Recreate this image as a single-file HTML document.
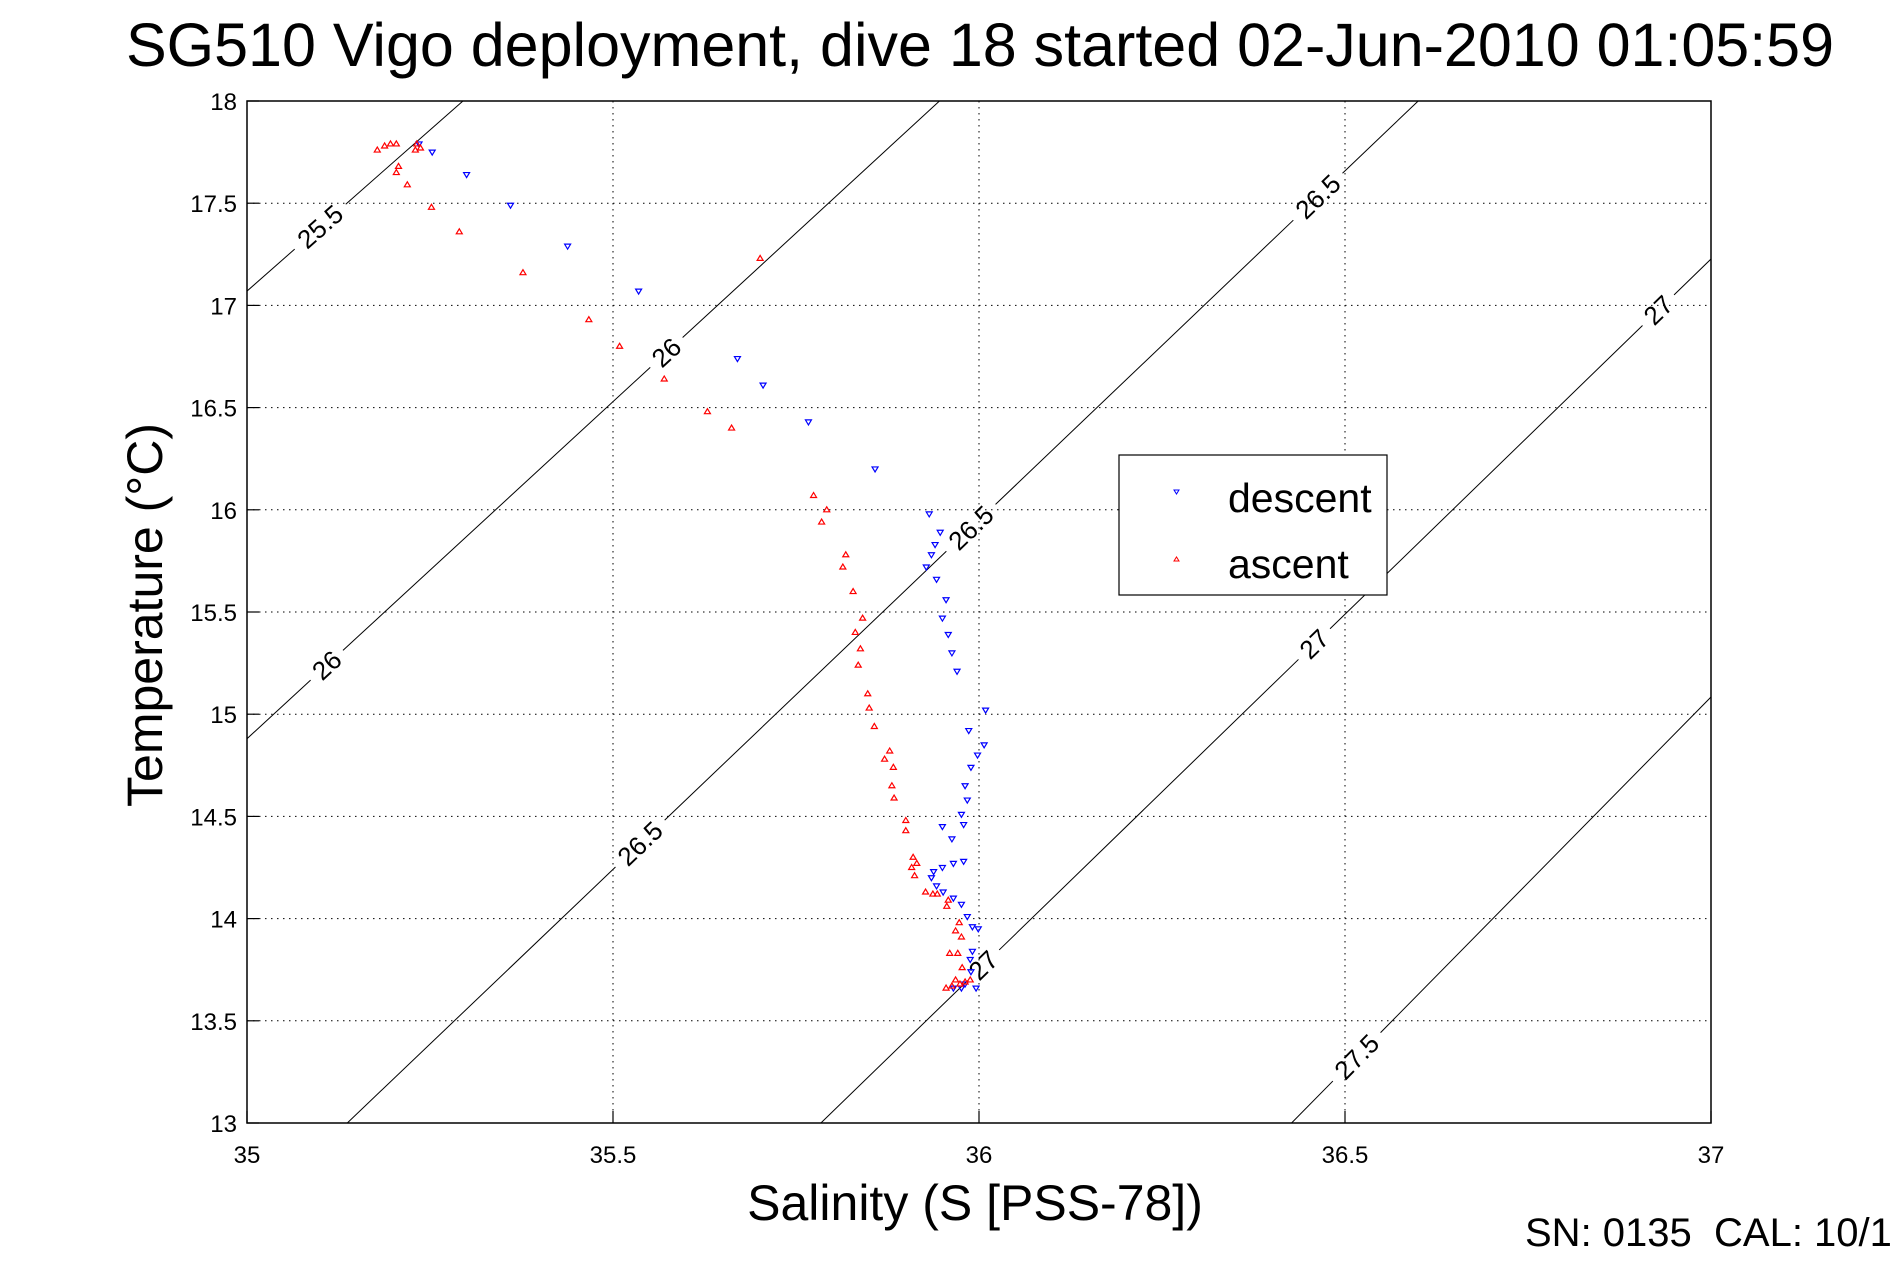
<!DOCTYPE html>
<html><head><meta charset="utf-8"><style>
html,body{margin:0;padding:0;background:#fff;}
svg{display:block;font-family:"Liberation Sans",sans-serif;}
</style></head><body>
<svg id="chart" width="1891" height="1262" viewBox="0 0 1891 1262">
<text x="980" y="66" font-size="61" text-anchor="middle">SG510 Vigo deployment, dive 18 started 02-Jun-2010 01:05:59</text>
<text x="975" y="1220" font-size="50" text-anchor="middle">Salinity (S [PSS-78])</text>
<text transform="translate(162,615) rotate(-90)" font-size="50" text-anchor="middle">Temperature (°C)</text>
<text x="1525" y="1246" font-size="40" style="white-space:pre">SN: 0135  CAL: 10/1</text>
<defs><clipPath id="pc"><rect x="247" y="101" width="1464" height="1022"/></clipPath></defs>
<g id="grid"></g>
<g id="contours" clip-path="url(#pc)"></g>
<g id="marks"></g>
<rect x="247" y="101" width="1464" height="1022" fill="none" stroke="#000" stroke-width="1.5"/>
<g id="ticks"></g>
<g>
<rect x="1119" y="455" width="268" height="140" fill="#fff" stroke="#000" stroke-width="1.2"/>
<path d="M1174,490 l5,0 l-2.5,4z" fill="none" stroke="#00f"/>
<text x="1228" y="512" font-size="41">descent</text>
<path d="M1174,561 l5,0 l-2.5,-4z" fill="none" stroke="#f00"/>
<text x="1228" y="578" font-size="41">ascent</text>
</g>
</svg>
<script>
const xTicks=[35,35.5,36,36.5,37];
const yTicks=[13,13.5,14,14.5,15,15.5,16,16.5,17,17.5,18];
const xTickLabels=["35","35.5","36","36.5","37"];
const yTickLabels=["13","13.5","14","14.5","15","15.5","16","16.5","17","17.5","18"];
const descentS=[35.235,35.253,35.300,35.360,35.438,35.535,35.670,35.705,35.767,35.858,35.932,35.947,35.940,35.935,35.928,35.942,35.955,35.950,35.958,35.963,35.970,36.009,36.007,35.986,35.998,35.989,35.981,35.984,35.976,35.979,35.950,35.963,35.979,35.965,35.950,35.938,35.935,35.942,35.951,35.965,35.976,35.984,35.991,35.999,35.991,35.988,35.989,35.981,35.996,35.976,35.965];
const descentT=[17.79,17.75,17.64,17.49,17.29,17.07,16.74,16.61,16.43,16.20,15.98,15.89,15.83,15.78,15.72,15.66,15.56,15.47,15.39,15.30,15.21,15.02,14.85,14.92,14.80,14.74,14.65,14.58,14.51,14.46,14.45,14.39,14.28,14.27,14.25,14.23,14.20,14.16,14.13,14.10,14.07,14.01,13.96,13.95,13.84,13.80,13.74,13.68,13.66,13.66,13.66];
const ascentS=[35.178,35.188,35.196,35.204,35.232,35.237,35.230,35.207,35.204,35.219,35.252,35.290,35.377,35.467,35.509,35.701,35.570,35.629,35.662,35.774,35.792,35.785,35.818,35.814,35.828,35.841,35.831,35.838,35.835,35.848,35.850,35.857,35.871,35.878,35.883,35.881,35.884,35.900,35.900,35.910,35.915,35.908,35.912,35.927,35.937,35.943,35.958,35.956,35.973,35.968,35.976,35.960,35.971,35.977,35.968,35.974,35.981,35.963,35.955,35.988];
const ascentT=[17.76,17.78,17.79,17.79,17.79,17.77,17.76,17.68,17.65,17.59,17.48,17.36,17.16,16.93,16.80,17.23,16.64,16.48,16.40,16.07,16.00,15.94,15.78,15.72,15.60,15.47,15.40,15.32,15.24,15.10,15.03,14.94,14.78,14.82,14.74,14.65,14.59,14.48,14.43,14.30,14.27,14.25,14.21,14.13,14.12,14.12,14.09,14.06,13.98,13.94,13.91,13.83,13.83,13.76,13.70,13.68,13.69,13.67,13.66,13.70];
const contourLevels=["25.5","26","26.5","27","27.5"];
const contourS0=[35.0,35.0,35.137,35.784,36.427];
const contourT0=[17.07,14.88,13.0,13.0,13.0];
const contourS1=[35.295,35.946,36.6,37.0,37.0];
const contourT1=[18.0,18.0,18.0,17.227,15.084];
const contourLabelS=[[35.100],[35.109,35.573],[35.537,35.989,36.463],[36.006,36.458,36.928],[36.516]];

const X0=247,X1=1711,Y0=1123,Y1=101;
const sx=s=>X0+(s-35)/2*(X1-X0);
const sy=t=>Y0-(t-13)/5*(Y0-Y1);
const NS="http://www.w3.org/2000/svg";
function mk(tag,attrs,parent){const e=document.createElementNS(NS,tag);for(const k in attrs)e.setAttribute(k,attrs[k]);parent.appendChild(e);return e;}
const grid=document.getElementById('grid'),ticks=document.getElementById('ticks'),cont=document.getElementById('contours'),marks=document.getElementById('marks');

xTicks.forEach((v,i)=>{const x=sx(v);
 const g=mk('line',{x1:x,x2:x,y1:Y1,y2:Y0,stroke:'#000','stroke-width':1,'stroke-dasharray':'1.5,4.5'},grid);
 
 
 const t=mk('line',{x1:x,x2:x,y1:Y0,y2:Y0-12,stroke:'#000','stroke-width':1.2},ticks);
 
 
 const l=mk('text',{x:x,y:1163,'font-size':24,'text-anchor':'middle'},ticks);l.textContent=xTickLabels[i];
 
 
});
yTicks.forEach((v,i)=>{const y=sy(v);
 const g=mk('line',{x1:X0,x2:X1,y1:y,y2:y,stroke:'#000','stroke-width':1,'stroke-dasharray':'1.5,4.5'},grid);
 
 
 const t=mk('line',{x1:X0,x2:X0+12,y1:y,y2:y,stroke:'#000','stroke-width':1.2},ticks);
 
 
 const l=mk('text',{x:237,y:y+9,'font-size':24,'text-anchor':'end'},ticks);l.textContent=yTickLabels[i];
 
 
});
contourLevels.forEach((lev,i)=>{
 const ax=sx(contourS0[i]),ay=sy(contourT0[i]),bx=sx(contourS1[i]),by=sy(contourT1[i]);
 const dx=bx-ax,dy=by-ay,len=Math.hypot(dx,dy),ux=dx/len,uy=dy/len;
 const ang=Math.atan2(dy,dx)*180/Math.PI;
 const gaps=contourLabelS[i].map(s=>(sx(s)-ax)/ux);
 let pos=0;const half=lev.length>2?34:22;
 gaps.sort((a,b)=>a-b).concat([len+100]).forEach(g=>{
  const e=Math.min(g-half,len);
  if(e>pos){const ln=mk('line',{x1:ax+ux*pos,y1:ay+uy*pos,x2:ax+ux*e,y2:ay+uy*e,stroke:'#000','stroke-width':1},cont);
   
   }
  pos=g+half;
 });
 gaps.forEach(g=>{if(g>len)return;const cx=ax+ux*g,cy=ay+uy*g;
  const t=mk('text',{x:0,y:9,'font-size':26,'text-anchor':'middle',transform:`translate(${cx},${cy}) rotate(${ang})`},cont);
  t.textContent=lev;
  
  
 });
});
descentS.forEach((s,i)=>{const x=sx(s),y=sy(descentT[i]);
 const p=mk('path',{d:`M${x-3},${y-2} l6,0 l-3,5z`,fill:'none',stroke:'#00f','stroke-width':1.2},marks);
 
 
});
ascentS.forEach((s,i)=>{const x=sx(s),y=sy(ascentT[i]);
 const p=mk('path',{d:`M${x-3},${y+2} l6,0 l-3,-5z`,fill:'none',stroke:'#f00','stroke-width':1.2},marks);
 
 
});
</script>
</body></html>
